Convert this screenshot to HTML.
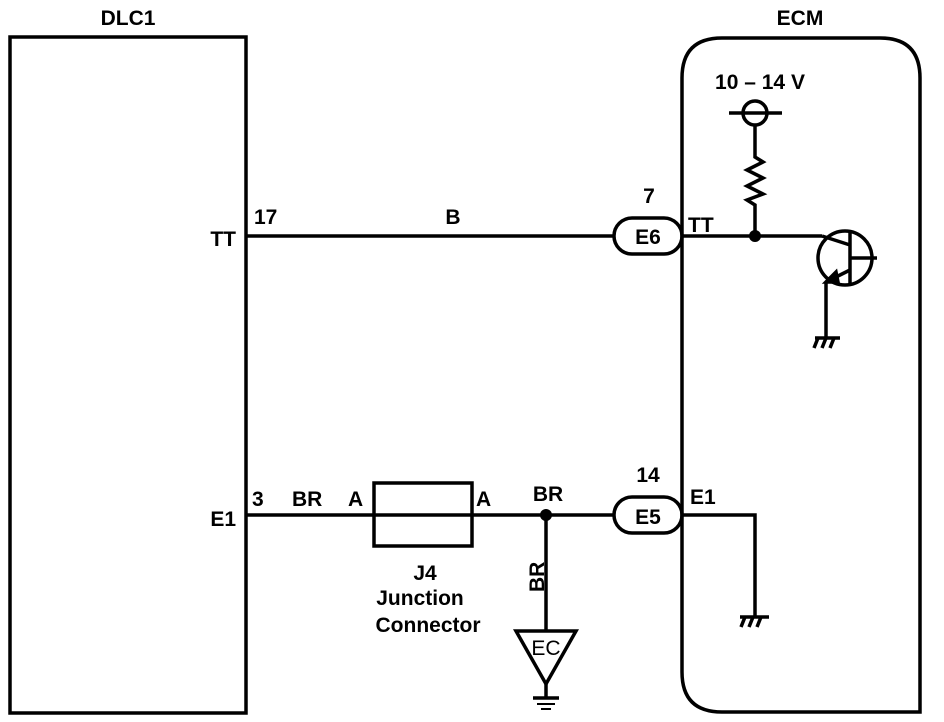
<!DOCTYPE html>
<html><head><style>body{margin:0;background:#fff}svg{display:block}text{font-family:"Liberation Sans",sans-serif;font-size:21px;font-weight:bold;fill:#000}</style></head>
<body>
<svg width="944" height="722" viewBox="0 0 944 722" xmlns="http://www.w3.org/2000/svg" fill="none" stroke="#000" stroke-width="3.5">
<rect x="10" y="37" width="236" height="676"/>
<path d="M682 78 Q682 38 722 38 L880 38 Q920 38 920 78 L920 712 L722 712 Q682 712 682 672 Z"/>
<g stroke="none">
<text x="128" y="25" text-anchor="middle">DLC1</text>
<text x="800" y="25" text-anchor="middle">ECM</text>
<text x="236" y="246" text-anchor="end">TT</text>
<text x="236" y="526" text-anchor="end">E1</text>
<text x="254" y="224">17</text>
<text x="453" y="224" text-anchor="middle">B</text>
<text x="649" y="203" text-anchor="middle">7</text>
<text x="648" y="244" text-anchor="middle">E6</text>
<text x="688" y="232">TT</text>
<text x="760" y="89" text-anchor="middle">10 – 14 V</text>
<text x="252" y="506">3</text>
<text x="292" y="506">BR</text>
<text x="348" y="506">A</text>
<text x="476" y="506">A</text>
<text x="548" y="501" text-anchor="middle">BR</text>
<text x="648" y="482" text-anchor="middle">14</text>
<text x="648" y="524" text-anchor="middle">E5</text>
<text x="690" y="504">E1</text>
<text x="425" y="580" text-anchor="middle">J4</text>
<text x="420" y="605" text-anchor="middle">Junction</text>
<text x="428" y="632" text-anchor="middle">Connector</text>
<text x="546" y="655" text-anchor="middle" style="font-weight:normal">EC</text>
<text transform="translate(544,592) rotate(-90)">BR</text>
<circle cx="755" cy="236" r="6" fill="#000"/>
<circle cx="546" cy="515" r="6" fill="#000"/>
</g>
<line x1="246" y1="236" x2="614" y2="236"/>
<rect x="614" y="218" width="68" height="36" rx="18"/>
<line x1="682" y1="236" x2="822" y2="236"/>
<circle cx="755" cy="113" r="12"/>
<line x1="729" y1="113" x2="782" y2="113"/>
<polyline points="755,125 755,157 763,162 747,170 763,178 747,186 763,194 747,200 755,205 755,236"/>
<circle cx="845" cy="258" r="27"/>
<line x1="850" y1="232" x2="850" y2="283"/>
<line x1="850" y1="258" x2="877" y2="258"/>
<line x1="822" y1="236" x2="850" y2="245"/>
<line x1="850" y1="270" x2="826" y2="282"/>
<path d="M826 282 L836 272 L838 282 Z" fill="#000"/>
<line x1="826" y1="282" x2="826" y2="338"/>
<line x1="815" y1="338" x2="840" y2="338"/>
<path d="M818 338 l-4 10 M826 338 l-4 10 M834 338 l-4 10"/>
<line x1="246" y1="515" x2="614" y2="515"/>
<rect x="374" y="483" width="98" height="63"/>
<rect x="614" y="497" width="68" height="36" rx="18"/>
<polyline points="682,515 755,515 755,617"/>
<line x1="740" y1="617" x2="769" y2="617"/>
<path d="M745 617 l-4 10 M753 617 l-4 10 M761 617 l-4 10"/>
<line x1="546" y1="515" x2="546" y2="631"/>
<path d="M516 631 L576 631 L546 684 Z"/>
<line x1="546" y1="684" x2="546" y2="698"/>
<line x1="533" y1="698" x2="559" y2="698"/>
<line x1="537" y1="704" x2="555" y2="704" stroke-width="2"/>
<line x1="541" y1="709" x2="551" y2="709" stroke-width="2"/>
</svg>
</body></html>
